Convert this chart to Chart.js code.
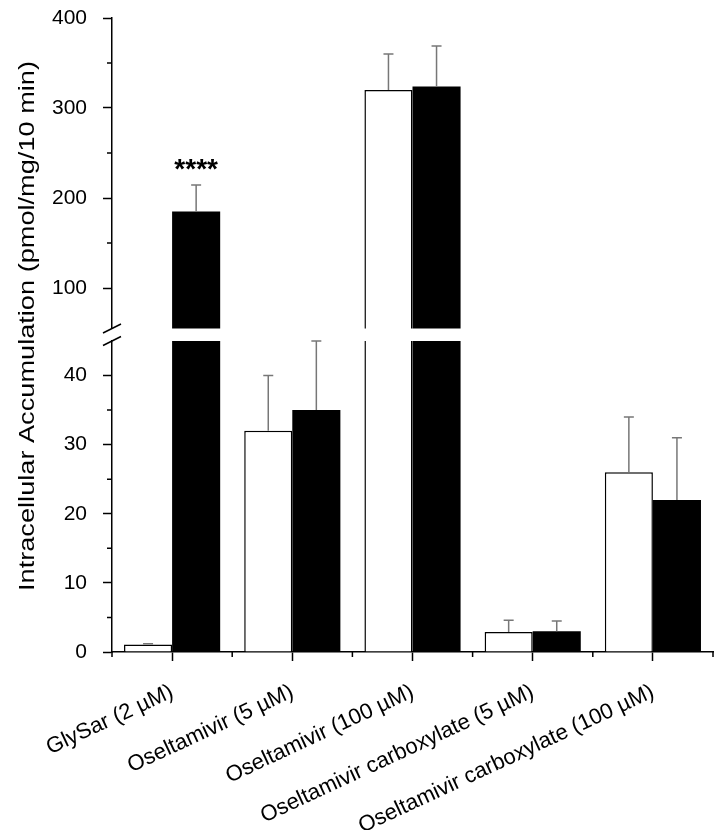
<!DOCTYPE html>
<html>
<head>
<meta charset="utf-8">
<script src="https://cdn.jsdelivr.net/npm/chart.js@4.4.0/dist/chart.umd.min.js"></script>
<style>
  html, body { margin: 0; padding: 0; background: #fff; }
  canvas { display: block; }
</style>
</head>
<body>
<canvas id="chart" width="720" height="830"></canvas>
<script>
// categories along the x axis
const categories = [
  'GlySar (2 µM)',
  'Oseltamivir (5 µM)',
  'Oseltamivir (100 µM)',
  'Oseltamivir carboxylate (5 µM)',
  'Oseltamivir carboxylate (100 µM)'
];

// open (white) bars and their SD
const openValues = [1.1, 32, 320, 2.9, 26];
const openErrors = [0.1, 8, 40, 1.7, 8];

// filled (black) bars and their SD
const filledValues = [185, 35, 324, 3.0, 22];
const filledErrors = [29.5, 10, 45, 1.5, 9];

// significance marks above the filled bars
const marks = ['****', '', '', '', ''];

// broken y axis: lower part 0-45, upper part 55-400
const lowerRange = [0, 45];
const upperRange = [55, 400];
const lowerTicks = [0, 10, 20, 30, 40];
const lowerMinorTicks = [5, 15, 25, 35];
const upperTicks = [100, 200, 300, 400];
const upperMinorTicks = [150, 250, 350];

const yTitle = 'Intracellular Accumulation (pmol/mg/10 min)';
const FONT = "'Liberation Sans', Arial, sans-serif";

// the lower axis shows bars cut at its top, the upper one only the tall bars
function lowerPart(values) {
  return values.map(v => Math.min(v, lowerRange[1]));
}
function upperPart(values) {
  return values.map(v => v > upperRange[0] ? v : null);
}

function openBorder(isUpper) {
  return ctx => {
    const cut = !isUpper && openValues[ctx.dataIndex] > lowerRange[1];
    return { left: 1.5, right: 1.5, top: cut ? 0 : 1.5, bottom: 0 };
  };
}

const decorations = {
  id: 'decorations',
  afterDatasetsDraw(chart) {
    const ctx = chart.ctx;
    const { yLow, yHigh } = chart.scales;
    const series = [
      { values: openValues, errors: openErrors, low: 0, high: 2 },
      { values: filledValues, errors: filledErrors, low: 1, high: 3, marks: marks }
    ];
    ctx.save();
    series.forEach(s => {
      s.values.forEach((v, i) => {
        const isUpper = v > upperRange[0];
        const meta = chart.getDatasetMeta(isUpper ? s.high : s.low);
        const scale = isUpper ? yHigh : yLow;
        const x = meta.data[i].x;
        const y0 = scale.getPixelForValue(v);
        const y1 = scale.getPixelForValue(v + s.errors[i]);
        ctx.strokeStyle = '#777777';
        ctx.lineWidth = 1.5;
        ctx.beginPath();
        ctx.moveTo(x, y0);
        ctx.lineTo(x, y1);
        ctx.moveTo(x - 5, y1);
        ctx.lineTo(x + 5, y1);
        ctx.stroke();
        if (s.marks && s.marks[i]) {
          ctx.fillStyle = '#000';
          ctx.font = 'bold 28px ' + FONT;
          ctx.textAlign = 'center';
          ctx.textBaseline = 'alphabetic';
          ctx.fillText(s.marks[i], x, y1 - 7);
        }
      });
    });
    ctx.restore();
  },
  afterDraw(chart) {
    const ctx = chart.ctx;
    const { x: xScale, yLow, yHigh } = chart.scales;
    const left = chart.chartArea.left;
    const bottom = chart.chartArea.bottom;
    ctx.save();
    ctx.strokeStyle = '#000';
    ctx.lineWidth = 1.5;
    ctx.beginPath();
    // minor ticks on y
    upperMinorTicks.forEach(v => {
      const y = yHigh.getPixelForValue(v);
      ctx.moveTo(left - 5, y);
      ctx.lineTo(left, y);
    });
    lowerMinorTicks.forEach(v => {
      const y = yLow.getPixelForValue(v);
      ctx.moveTo(left - 5, y);
      ctx.lineTo(left, y);
    });
    // minor ticks on x, at category edges
    for (let i = 0; i <= categories.length; i++) {
      const x = xScale.getPixelForValue(i - 0.5);
      ctx.moveTo(x, bottom);
      ctx.lineTo(x, bottom + 5);
    }
    ctx.stroke();

    // break marks
    ctx.beginPath();
    [yHigh.bottom, yLow.top].forEach(y => {
      ctx.moveTo(left - 9, y + 4.5);
      ctx.lineTo(left + 9, y - 4.5);
    });
    ctx.stroke();

    // y axis title
    const midY = (chart.chartArea.top + chart.chartArea.bottom) / 2 - 9;
    ctx.translate(28, midY);
    ctx.rotate(-Math.PI / 2);
    ctx.font = '22px ' + FONT;
    const w = ctx.measureText(yTitle).width;
    ctx.scale(530 / w, 1);
    ctx.fillStyle = '#000';
    ctx.textAlign = 'center';
    ctx.textBaseline = 'middle';
    ctx.fillText(yTitle, 0, 0);
    ctx.restore();
  }
};

function yAxis(range, ticks, weight) {
  return {
    type: 'linear',
    position: 'left',
    stack: 'v',
    stackWeight: weight,
    min: range[0],
    max: range[1],
    afterBuildTicks: scale => { scale.ticks = ticks.map(value => ({ value })); },
    afterFit: scale => { scale.width = 112; },
    border: { display: true, color: '#000', width: 1.5 },
    grid: { display: true, drawOnChartArea: false, color: '#000', tickColor: '#000', tickLength: 9, tickWidth: 1.5 },
    // small lineHeight keeps the label overflow from pushing the plot down
    ticks: { color: '#000', padding: 16, font: { family: FONT, size: 21, lineHeight: 0.1 } }
  };
}

new Chart(document.getElementById('chart'), {
  type: 'bar',
  data: {
    labels: categories,
    datasets: [
      {
        label: 'open',
        data: lowerPart(openValues),
        yAxisID: 'yLow',
        stack: 'open',
        backgroundColor: '#ffffff',
        borderColor: '#000000',
        borderWidth: openBorder(false),
        borderSkipped: false
      },
      {
        label: 'filled',
        data: lowerPart(filledValues),
        yAxisID: 'yLow',
        stack: 'filled',
        backgroundColor: '#000000',
        borderWidth: 0
      },
      {
        label: 'open',
        data: upperPart(openValues),
        yAxisID: 'yHigh',
        stack: 'open',
        backgroundColor: '#ffffff',
        borderColor: '#000000',
        borderWidth: openBorder(true),
        borderSkipped: false
      },
      {
        label: 'filled',
        data: upperPart(filledValues),
        yAxisID: 'yHigh',
        stack: 'filled',
        backgroundColor: '#000000',
        borderWidth: 0
      }
    ]
  },
  options: {
    responsive: false,
    animation: false,
    categoryPercentage: 0.8,
    barPercentage: 1.0,
    layout: { padding: { top: 18, right: 7, bottom: 0, left: 0 } },
    plugins: {
      legend: { display: false },
      tooltip: { enabled: false }
    },
    scales: {
      x: {
        type: 'category',
        offset: true,
        afterFit: scale => { scale.height = 178; },
        border: { display: true, color: '#000', width: 1.5 },
        grid: { display: true, offset: false, drawOnChartArea: false, color: '#000', tickColor: '#000', tickLength: 9, tickWidth: 1.5 },
        ticks: {
          color: '#000',
          autoSkip: false,
          minRotation: 25,
          maxRotation: 25,
          padding: 18,
          font: { family: FONT, size: 22 }
        }
      },
      yLow: yAxis(lowerRange, lowerTicks, 311),
      yGap: {
        type: 'linear',
        position: 'left',
        stack: 'v',
        stackWeight: 12.5,
        min: 0,
        max: 1,
        afterFit: scale => { scale.width = 112; },
        border: { display: false },
        grid: { display: false },
        ticks: { display: false }
      },
      yHigh: yAxis(upperRange, upperTicks, 310.5)
    }
  },
  plugins: [decorations]
});
</script>
</body>
</html>
